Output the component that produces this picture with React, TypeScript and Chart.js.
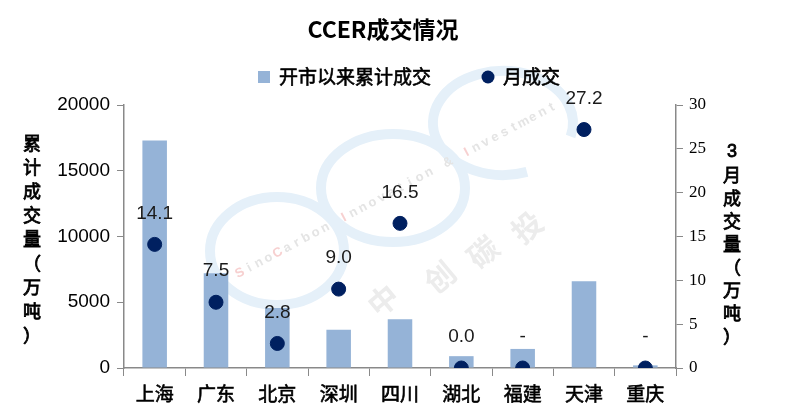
import React, { useEffect, useRef } from 'react';
import { Chart, registerables } from 'chart.js';

Chart.register(...registerables);

// ---- data ----
const chartTitle = 'CCER成交情况';
const categories = ['上海', '广东', '北京', '深圳', '四川', '湖北', '福建', '天津', '重庆'];
const cumulativeVolume = [17300, 7200, 4560, 2900, 3700, 900, 1450, 6600, 200];
const monthlyVolume = [14.1, 7.5, 2.8, 9.0, 16.5, 0.0, 0, 27.2, 0];
const monthlyLabels = ['14.1', '7.5', '2.8', '9.0', '16.5', '0.0', '-', '27.2', '-'];
const seriesNames = ['开市以来累计成交', '月成交'];
const leftAxisTitle = ['累', '计', '成', '交', '量', '（', '万', '吨', '）'];
const rightAxisTitle = ['3', '月', '成', '交', '量', '（', '万', '吨', '）'];
const watermarkEn = 'SinoCarbon Innovation & Investment';
const watermarkCn = ['中', '创', '碳', '投'];
const leftMax = 20000;
const leftStep = 5000;
const rightMax = 30;
const rightStep = 5;

const BAR_COLOR = '#95B3D7';
const POINT_COLOR = '#002060';
const AXIS_COLOR = '#898989';
const RING_COLOR = '#e5f0f9';
const CJK = '"Noto Sans CJK SC", "Noto Sans", sans-serif';
const SANS = '"Liberation Sans", Arial, sans-serif';
const SERIF = '"Liberation Serif", "Times New Roman", serif';

function heavyText(ctx: any, text: string, x: number, y: number, w = 0.6) {
  ctx.lineWidth = w;
  ctx.strokeStyle = ctx.fillStyle;
  ctx.strokeText(text, x, y);
  ctx.fillText(text, x, y);
}

const decorPlugin = {
  id: 'decor',
  beforeDatasetsDraw(chart: any) {
    const ctx = chart.ctx;
    ctx.save();
    // faint watermark rings
    ctx.strokeStyle = RING_COLOR;
    ctx.lineWidth = 10;
    ctx.beginPath();
    ctx.ellipse(277, 251, 67, 54, 0, 0, Math.PI * 2);
    ctx.stroke();
    ctx.beginPath();
    ctx.ellipse(393, 188, 72, 54, 0, 0, Math.PI * 2);
    ctx.stroke();
    ctx.beginPath();
    ctx.ellipse(503, 123, 70, 52, 0, (70 * Math.PI) / 180, (375 * Math.PI) / 180);
    ctx.stroke();
    // watermark english text
    const ang = (-28 * Math.PI) / 180;
    ctx.font = `bold 13px ${SANS}`;
    ctx.textAlign = 'center';
    ctx.textBaseline = 'middle';
    for (let i = 0; i < watermarkEn.length; i++) {
      const c = watermarkEn[i];
      const px = 240 + i * 10.7 * Math.cos(ang);
      const py = 273 + i * 10.7 * Math.sin(ang);
      ctx.save();
      ctx.translate(px, py);
      ctx.rotate(ang);
      ctx.fillStyle = c >= 'A' && c <= 'Z' ? '#f7d0d0' : '#e4e4e4';
      ctx.fillText(c, 0, 0);
      ctx.restore();
    }
    // watermark chinese text
    ctx.font = `bold 30px ${CJK}`;
    ctx.fillStyle = '#ececec';
    const cn = [
      [383, 300],
      [440, 277],
      [483, 252],
      [527, 227],
    ];
    watermarkCn.forEach((c, i) => {
      ctx.save();
      ctx.translate(cn[i][0], cn[i][1]);
      ctx.rotate((-40 * Math.PI) / 180);
      ctx.fillText(c, 0, 0);
      ctx.restore();
    });
    ctx.restore();
  },
  afterDatasetsDraw(chart: any) {
    const ctx = chart.ctx;
    // data labels for monthly series
    const meta = chart.getDatasetMeta(1);
    ctx.save();
    ctx.font = `19px ${SANS}`;
    ctx.fillStyle = '#1a1a1a';
    ctx.textAlign = 'center';
    ctx.textBaseline = 'middle';
    meta.data.forEach((pt: any, i: number) => {
      ctx.fillText(monthlyLabels[i], pt.x, pt.y - 31);
    });
    ctx.restore();
  },
  afterDraw(chart: any) {
    const ctx = chart.ctx;
    const area = chart.chartArea;
    ctx.save();
    // title
    ctx.font = `bold 23px ${CJK}`;
    ctx.fillStyle = '#000';
    ctx.textAlign = 'center';
    ctx.textBaseline = 'middle';
    ctx.fillText(chartTitle, 383, 29);

    // legend
    ctx.font = `19px ${CJK}`;
    ctx.textAlign = 'left';
    const ly = 77;
    let x = 258;
    ctx.fillStyle = BAR_COLOR;
    ctx.fillRect(x, ly - 6, 12, 12);
    x += 21;
    ctx.fillStyle = '#000';
    heavyText(ctx, seriesNames[0], x, ly);
    x += ctx.measureText(seriesNames[0]).width + 50;
    ctx.fillStyle = POINT_COLOR;
    ctx.beginPath();
    ctx.arc(x + 7, ly, 6.5, 0, Math.PI * 2);
    ctx.fill();
    x += 22;
    ctx.fillStyle = '#000';
    heavyText(ctx, seriesNames[1], x, ly);

    // axis titles (vertical, stacked characters)
    ctx.textAlign = 'center';
    const top = area.top + 38;
    leftAxisTitle.forEach((c, i) => {
      ctx.font = `18px ${CJK}`;
      heavyText(ctx, c, 32, top + i * 24, 0.8);
    });
    rightAxisTitle.forEach((c, i) => {
      ctx.font = c === '3' ? `18px ${SANS}` : `18px ${CJK}`;
      heavyText(ctx, c, area.right + 56, top + 9 + i * 23, 0.8);
    });
    ctx.restore();
  },
};

export default function App() {
  const ref = useRef<HTMLCanvasElement | null>(null);
  useEffect(() => {
    if (!ref.current) return;
    const chart = new Chart(ref.current, {
      data: {
        labels: categories,
        datasets: [
          {
            type: 'bar',
            label: seriesNames[0],
            data: cumulativeVolume,
            backgroundColor: BAR_COLOR,
            yAxisID: 'y',
            categoryPercentage: 1,
            barPercentage: 0.4,
            order: 2,
          },
          {
            type: 'line',
            label: seriesNames[1],
            data: monthlyVolume,
            showLine: false,
            pointRadius: 7,
            pointHoverRadius: 7,
            pointBackgroundColor: POINT_COLOR,
            pointBorderColor: POINT_COLOR,
            backgroundColor: POINT_COLOR,
            borderColor: POINT_COLOR,
            yAxisID: 'y1',
            order: 1,
          },
        ],
      } as any,
      options: {
        animation: false,
        responsive: true,
        maintainAspectRatio: false,
        layout: { padding: { top: 105, left: 0, right: 0, bottom: 0 } },
        plugins: {
          legend: { display: false },
          tooltip: { enabled: false },
          title: { display: false },
        },
        scales: {
          x: {
            grid: {
              display: true,
              drawOnChartArea: false,
              drawTicks: true,
              tickLength: 8,
              color: AXIS_COLOR,
              offset: true,
            },
            border: { display: true, color: AXIS_COLOR, width: 1.5 },
            ticks: {
              color: '#000',
              font: { size: 19, family: CJK },
              padding: 6,
              textStrokeColor: '#000',
              textStrokeWidth: 0.6,
            },
            afterFit: (s: any) => {
              s.height = 46;
            },
          },
          y: {
            position: 'left',
            min: 0,
            max: leftMax,
            ticks: {
              stepSize: leftStep,
              color: '#000',
              font: { size: 19, family: SANS },
              padding: 7,
              callback: (v: any) => String(v),
            },
            grid: { drawOnChartArea: false, tickLength: 7, color: AXIS_COLOR },
            border: { display: true, color: AXIS_COLOR, width: 1.5 },
            afterFit: (s: any) => {
              s.width = 124;
            },
          },
          y1: {
            position: 'right',
            min: 0,
            max: rightMax,
            ticks: { stepSize: rightStep, color: '#000', font: { size: 17, family: SERIF }, padding: 6 },
            grid: { drawOnChartArea: false, tickLength: 7, color: AXIS_COLOR },
            border: { display: true, color: AXIS_COLOR, width: 1.5 },
            afterFit: (s: any) => {
              s.width = 109;
            },
          },
        },
      } as any,
      plugins: [decorPlugin],
    });
    return () => chart.destroy();
  }, []);
  return (
    <div style={{ position: 'absolute', left: 0, top: 0, width: 785, height: 414, background: '#fff' }}>
      <canvas ref={ref} />
    </div>
  );
}
